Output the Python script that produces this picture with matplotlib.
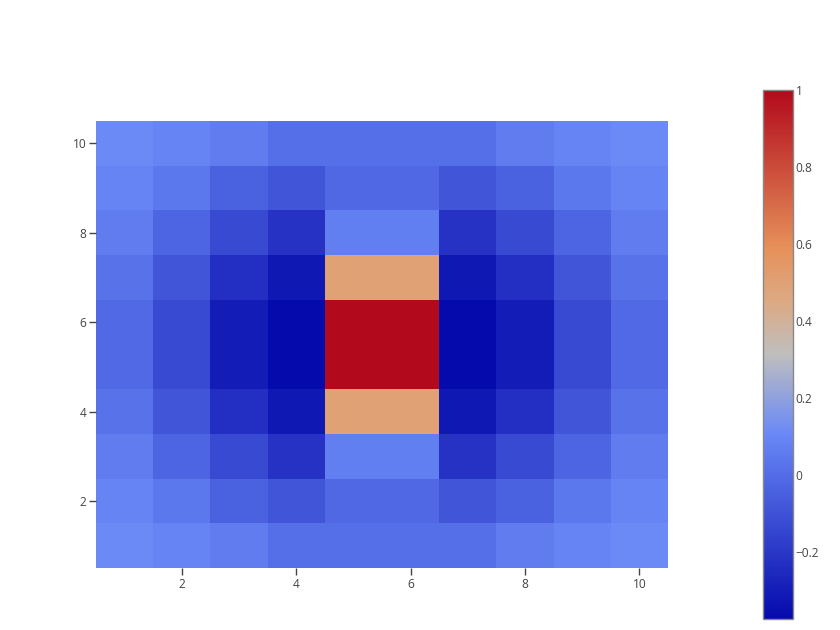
import numpy as np
import matplotlib
matplotlib.use("Agg")
import matplotlib.pyplot as plt
from matplotlib.colors import LinearSegmentedColormap, Normalize
from matplotlib.colorbar import ColorbarBase

# x / y categories (cell centres)
x_vals = [1, 2, 3, 4, 5, 6, 7, 8, 9, 10]
y_vals = [1, 2, 3, 4, 5, 6, 7, 8, 9, 10]

# estimated z values, rows from y=1 (bottom) to y=10 (top)
row_1 = [0.11, 0.09, 0.06, 0.01, 0.01, 0.01, 0.01, 0.06, 0.09, 0.11]
row_2 = [0.09, 0.04, -0.04, -0.085, -0.02, -0.02, -0.085, -0.04, 0.04, 0.09]
row_3 = [0.06, -0.03, -0.13, -0.22, 0.07, 0.07, -0.22, -0.13, -0.03, 0.06]
row_4 = [0.02, -0.085, -0.23, -0.32, 0.50, 0.50, -0.32, -0.23, -0.085, 0.02]
row_5 = [-0.01, -0.13, -0.30, -0.375, 1.00, 1.00, -0.375, -0.30, -0.13, -0.01]
row_6 = [-0.01, -0.13, -0.30, -0.375, 1.00, 1.00, -0.375, -0.30, -0.13, -0.01]
row_7 = [0.02, -0.085, -0.23, -0.32, 0.50, 0.50, -0.32, -0.23, -0.085, 0.02]
row_8 = [0.06, -0.03, -0.13, -0.22, 0.07, 0.07, -0.22, -0.13, -0.03, 0.06]
row_9 = [0.09, 0.04, -0.04, -0.085, -0.02, -0.02, -0.085, -0.04, 0.04, 0.09]
row_10 = [0.11, 0.09, 0.06, 0.01, 0.01, 0.01, 0.01, 0.06, 0.09, 0.11]
z = np.array([row_1, row_2, row_3, row_4, row_5, row_6, row_7, row_8, row_9, row_10])

tick_vals = [2, 4, 6, 8, 10]
cbar_ticks = [-0.2, 0, 0.2, 0.4, 0.6, 0.8, 1]
cbar_labels = ["\u22120.2", "0", "0.2", "0.4", "0.6", "0.8", "1"]

# plotly RdBu colorscale
cs_pos = [0, 0.35, 0.5, 0.6, 0.7, 1]
cs_rgb = [(5, 10, 172), (106, 137, 247), (190, 190, 190), (220, 170, 132), (230, 145, 90), (178, 10, 28)]
cmap = LinearSegmentedColormap.from_list(
    "plotly_rdbu", [(p, tuple(c / 255 for c in rgb)) for p, rgb in zip(cs_pos, cs_rgb)])

zmin, zmax = z.min(), z.max()
norm = Normalize(vmin=zmin, vmax=zmax)

plt.rcParams['font.family'] = ['Open Sans', 'DejaVu Sans']
W, H = 840, 630
fig = plt.figure(figsize=(W / 100, H / 100), dpi=100)

def ax_rect(x0, y0, x1, y1):
    return [x0 / W, 1 - y1 / H, (x1 - x0) / W, (y1 - y0) / H]

ax = fig.add_axes(ax_rect(96, 121, 668, 568))
xe = np.arange(len(x_vals) + 1) + 0.5
ye = np.arange(len(y_vals) + 1) + 0.5
ax.pcolormesh(xe, ye, z, cmap=cmap, norm=norm, shading='flat')
ax.set_xlim(0.5, 10.5)
ax.set_ylim(0.5, 10.5)
ax.set_xticks(tick_vals)
ax.set_yticks(tick_vals)
ax.set_xticklabels([str(v) for v in tick_vals])
ax.set_yticklabels([str(v) for v in tick_vals])
for s in ax.spines.values():
    s.set_visible(False)
ax.tick_params(axis='both', length=5, width=1, color='#444444', labelcolor='#444444',
               labelsize=8.6, pad=2)

cax = fig.add_axes(ax_rect(763, 90, 793, 619))
cb = ColorbarBase(cax, cmap=cmap, norm=norm, orientation='vertical')
cb.set_ticks(cbar_ticks)
cb.set_ticklabels(cbar_labels)
cb.outline.set_edgecolor('#888888')
cb.outline.set_linewidth(1)
cax.tick_params(length=0, labelcolor='#444444', labelsize=8.6, pad=2)

fig.savefig("out.png", dpi=100, facecolor='white')
